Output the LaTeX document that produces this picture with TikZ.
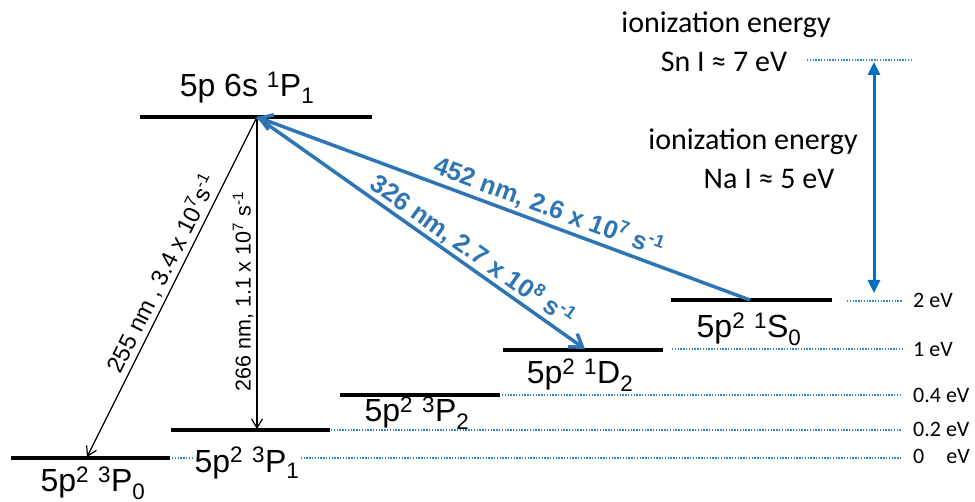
\documentclass[tikz,border=0pt]{standalone}
\usepackage{fontspec}
\setmainfont{Liberation Sans}
\newfontfamily\calfont{Carlito}
\usetikzlibrary{arrows.meta}
\definecolor{arrblue}{HTML}{2E75B6}
\definecolor{ionblue}{HTML}{0070C0}
\definecolor{dotblue}{HTML}{2E86D0}
\newcommand{\fsz}[1]{\fontsize{#1}{#1}\selectfont}
\tikzset{
  levelline/.style={line width=3.5pt},
  guide/.style={dotblue, line width=1.4pt, dash pattern=on 1.4pt off 1.4pt},
  lvllabel/.style={font=\fsz{32}, fill=white, inner xsep=2pt, inner ysep=0pt, anchor=base},
  blackarrow/.style={line width=1.2pt, -{Straight Barb[length=9pt,width=11pt,line width=1.2pt]}},
  blackarrowrev/.style={line width=1.2pt, {Straight Barb[length=9pt,width=11pt,line width=1.2pt]}-},
  bluearrow/.style={arrblue, line width=3.5pt, -{Straight Barb[length=12pt,width=16pt,line width=3.5pt]}},
  blacklabel/.style={font=\fsz{23.5}, sloped, above, inner sep=3pt},
  bluelabel/.style={font=\bfseries\fsz{25.5}, text=arrblue, sloped, above, inner sep=1pt},
  evlabel/.style={font=\calfont\fsz{22}, anchor=base west, inner sep=0pt},
  iontext/.style={font=\calfont\fsz{30}, anchor=base, inner sep=0pt},
}
\begin{document}
\begin{tikzpicture}[x=1pt,y=-1pt]
\useasboundingbox (0,0) rectangle (975,502);

% energy level end points
\coordinate (p1L) at (140,117); \coordinate (p1R) at (372,117);
\coordinate (p0L) at (11,458);  \coordinate (p0R) at (170,458);
\coordinate (pp1L) at (171,430); \coordinate (pp1R) at (330,430);
\coordinate (p2L) at (340,395); \coordinate (p2R) at (500,395);
\coordinate (d2L) at (503,350); \coordinate (d2R) at (663,350);
\coordinate (s0L) at (671,300); \coordinate (s0R) at (832,300);

% guide (dotted) lines
\coordinate (g0a) at (172,458); \coordinate (g0b) at (902,458);
\coordinate (g1a) at (331,430); \coordinate (g1b) at (902,430);
\coordinate (g2a) at (502,395); \coordinate (g2b) at (902,395);
\coordinate (g3a) at (672,349); \coordinate (g3b) at (902,349);
\coordinate (g4a) at (847,301); \coordinate (g4b) at (902,301);
\coordinate (g5a) at (807,60);  \coordinate (g5b) at (912,60);
\draw[guide] (g0a) -- (g0b);
\draw[guide] (g1a) -- (g1b);
\draw[guide] (g2a) -- (g2b);
\draw[guide] (g3a) -- (g3b);
\draw[guide] (g4a) -- (g4b);
\draw[guide] (g5a) -- (g5b);

% level labels
\node[lvllabel] (lp1) at (247,97) {5p 6s \textsuperscript{1}P\textsubscript{1}};
\node[lvllabel] (lp0) at (93,492) {5p\textsuperscript{2} \textsuperscript{3}P\textsubscript{0}};
\node[lvllabel] (lpp1) at (247,472) {5p\textsuperscript{2} \textsuperscript{3}P\textsubscript{1}};
\node[lvllabel] (lp2) at (417,422) {5p\textsuperscript{2} \textsuperscript{3}P\textsubscript{2}};
\node[lvllabel] (ld2) at (580,384) {5p\textsuperscript{2} \textsuperscript{1}D\textsubscript{2}};
\node[lvllabel] (ls0) at (749,338) {5p\textsuperscript{2} \textsuperscript{1}S\textsubscript{0}};

% levels
\draw[levelline] (p1L) -- (p1R);
\draw[levelline] (p0L) -- (p0R);
\draw[levelline] (pp1L) -- (pp1R);
\draw[levelline] (p2L) -- (p2R);
\draw[levelline] (d2L) -- (d2R);
\draw[levelline] (s0L) -- (s0R);

% transition arrows
\coordinate (tp1) at (257,117);
\coordinate (tp0) at (87,457);
\coordinate (tpp1) at (257,429);
\coordinate (td2) at (585,349);
\coordinate (ts0) at (750,300);

\draw[blackarrow] (tp1) -- node[blacklabel, pos=0.48] (l255) {255 nm , 3.4 x 10\textsuperscript{7}s\textsuperscript{-1}} (tp0);
\draw[blackarrowrev] (tpp1) -- node[blacklabel, font=\fsz{21.5}, pos=0.44] (l266) {266 nm, 1.1 x 10\textsuperscript{7} s\textsuperscript{-1}} (tp1);
\draw[bluearrow] (ts0) -- node[bluelabel, pos=0.42, yshift=2pt] (l452) {452 nm, 2.6 x 10\textsuperscript{7} s\textsuperscript{-1}} (tp1);
\draw[bluearrow] (tp1) -- node[bluelabel, pos=0.63] (l326) {326 nm, 2.7 x 10\textsuperscript{8} s\textsuperscript{-1}} (td2);

% ionization arrow
\coordinate (ionTop) at (874,62);
\coordinate (ionBot) at (874,293);
\draw[ionblue, line width=3pt, {Triangle[length=13pt,width=12pt]}-{Triangle[length=13pt,width=12pt]}] (ionTop) -- (ionBot);

% ionization texts
\node[iontext] (ion1) at (726,33) {ionization energy};
\node[iontext] (sn) at (724,72) {Sn I ≈ 7 eV};
\node[iontext] (ion2) at (753,150) {ionization energy};
\node[iontext] (na) at (769,189) {Na I ≈ 5 eV};

% energy scale labels
\node[evlabel] (e2) at (913,308) {2 eV};
\node[evlabel] (e1) at (913,357) {1 eV};
\node[evlabel] (e04) at (913,403) {0.4 eV};
\node[evlabel] (e02) at (913,437) {0.2 eV};
\node[evlabel] (e0) at (913,464) {0\hspace{22pt}eV};
\end{tikzpicture}
\end{document}
